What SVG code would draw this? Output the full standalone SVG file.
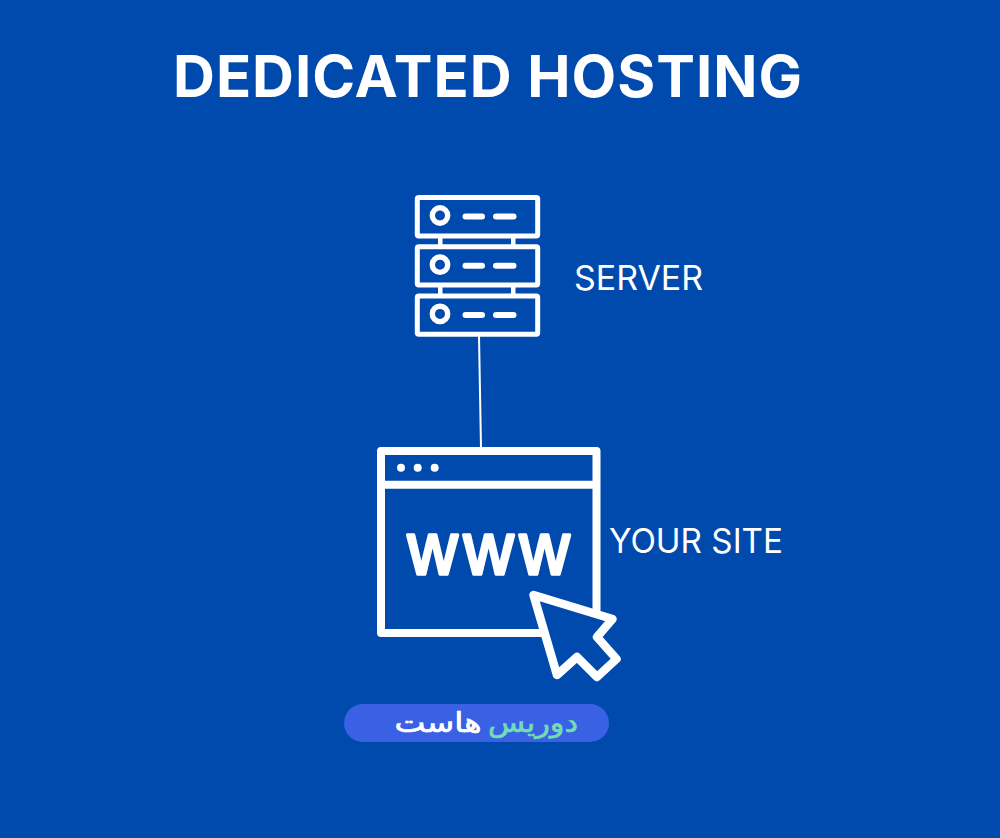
<svg xmlns="http://www.w3.org/2000/svg" width="1000" height="838" viewBox="0 0 1000 838">
<style>
.bg{fill:#004aad}
.ln{fill:none;stroke:#fff;stroke-linejoin:round}
.srv{fill:none;stroke:#fff;stroke-width:5;stroke-linejoin:round}
.dash{stroke:#fff;stroke-width:6;stroke-linecap:round}
.lbl{font-family:Inter,"Liberation Sans",sans-serif;fill:#fff}
.fa{font-family:"DejaVu Sans","Noto Sans",sans-serif;font-size:27px;stroke-width:.7px;text-anchor:middle}
</style>
<defs>
<g id="unit">
<rect class="srv" x="417.300" y="197.500" width="120.400" height="38.400" rx="1.500"/>
<circle cx="440" cy="215.500" r="7.700" fill="none" stroke="#fff" stroke-width="5.400"/>
<line class="dash" x1="465.500" y1="216.500" x2="482" y2="216.500"/>
<line class="dash" x1="496" y1="216.500" x2="513.500" y2="216.500"/>
</g>
</defs>
<rect class="bg" width="1000" height="838"/>
<text id="title" class="lbl" x="173" y="97.300" font-size="58" font-weight="700" textLength="629" lengthAdjust="spacing">DEDICATED HOSTING</text>
<g id="connectors">
<line x1="479" y1="336" x2="481" y2="448" stroke="#fff" stroke-width="2"/>
</g>
<g id="server">
<use href="#unit"/>
<use href="#unit" y="49.200"/>
<use href="#unit" y="98.400"/>
<rect x="438" y="237" width="4.500" height="8" fill="#fff"/>
<rect x="511" y="237" width="4.500" height="8" fill="#fff"/>
<rect x="438" y="286" width="4.500" height="8" fill="#fff"/>
<rect x="511" y="286" width="4.500" height="8" fill="#fff"/>
</g>
<text id="server-label" class="lbl" x="574" y="290" font-size="34" font-weight="400" textLength="129" lengthAdjust="spacingAndGlyphs">SERVER</text>
<g id="site">
<rect class="ln" x="381" y="451" width="215.500" height="182" stroke-width="8"/>
<line x1="381" y1="484.700" x2="596.500" y2="484.700" stroke="#fff" stroke-width="8"/>
<circle cx="401" cy="467.700" r="4" fill="#fff"/>
<circle cx="417.700" cy="467.700" r="4" fill="#fff"/>
<circle cx="434.700" cy="467.700" r="4" fill="#fff"/>
<text transform="translate(407.750,574.250) scale(.93,1)" x="0 60.200 120.400" y="0" font-family="'Liberation Sans',sans-serif" font-size="74" fill="#fff" stroke="#fff" stroke-width="3.500" stroke-linejoin="round">www</text>
<path d="M533.500 595 L612.500 619 L597 637 L616.500 659 L597 677 L577 657 L557 675 Z" fill="#004aad" stroke="#fff" stroke-width="8.500" stroke-linejoin="round"/>
</g>
<text id="site-label" class="lbl" x="609" y="553" font-size="34" font-weight="400" textLength="174" lengthAdjust="spacingAndGlyphs">YOUR SITE</text>
<g id="badge">
<rect x="344" y="704" width="265" height="38" rx="19" fill="#3a60e4"/>
<text class="fa" x="533" y="732" fill="#72dcb2" stroke="#72dcb2" direction="rtl" textLength="90" lengthAdjust="spacingAndGlyphs">دوریس</text>
<text class="fa" x="438" y="732" fill="#fff" stroke="#fff" direction="rtl" textLength="87" lengthAdjust="spacingAndGlyphs">هاست</text>
</g>
</svg>
